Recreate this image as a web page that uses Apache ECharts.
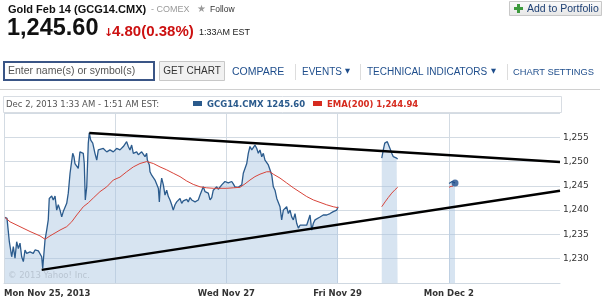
<!DOCTYPE html>
<html><head><meta charset="utf-8">
<script src="https://cdn.jsdelivr.net/npm/echarts@6/dist/echarts.min.js"></script>
<style>html,body{margin:0;padding:0;background:#fff;}#c{width:605px;height:302px;}</style>
</head><body><div id="c"></div>
<script>
// x = trading-session units (0 = Mon Nov 25 open, 1 per session)
const dayLabels = ['Mon Nov 25, 2013', '', 'Wed Nov 27', 'Fri Nov 29', 'Mon Dec 2', ''];
const yTicks = [1230, 1235, 1240, 1245, 1250, 1255];

const priceSeg1 = [
[0.009,1238.5],[0.027,1238.3],[0.048,1233.5],[0.069,1230.4],[0.084,1232.5],[0.099,1230.1],[0.114,1233.5],[0.129,1232.1],[0.144,1233.2],[0.159,1230.4],
[0.174,1229.4],[0.189,1231.8],[0.204,1231.1],[0.219,1231.4],[0.234,1231.4],[0.249,1231.8],[0.263,1231.1],[0.279,1231.8],[0.294,1231.4],[0.309,1231.6],
[0.324,1231.4],[0.339,1230.4],[0.348,1228.0],[0.360,1228.4],[0.369,1233.9],[0.384,1235.9],[0.398,1238.0],[0.407,1242.4],[0.429,1242.9],[0.443,1242.1],
[0.459,1242.9],[0.474,1240.0],[0.488,1241.1],[0.504,1240.0],[0.519,1238.6],[0.533,1239.7],[0.564,1241.4],[0.578,1243.5],[0.594,1247.6],[0.609,1247.9],
[0.618,1251.7],[0.629,1251.0],[0.638,1249.6],[0.654,1249.3],[0.668,1248.6],[0.683,1252.0],[0.699,1252.4],[0.713,1251.7],[0.722,1249.6],[0.731,1242.1],
[0.744,1244.8],[0.758,1253.8],[0.767,1255.9],[0.780,1254.4],[0.798,1253.8],[0.818,1251.7],[0.834,1250.3],[0.848,1252.4],[0.863,1252.0],[0.893,1252.7],
[0.924,1252.0],[0.953,1252.4],[0.983,1252.0],[1.013,1252.7],[1.043,1252.4],[1.073,1253.1],[1.088,1253.4],[1.103,1254.1],[1.118,1253.1],[1.133,1252.4],
[1.148,1253.4],[1.163,1251.7],[1.178,1251.4],[1.193,1252.0],[1.208,1251.4],[1.223,1251.7],[1.238,1252.0],[1.253,1251.7],[1.268,1251.0],[1.283,1251.7],
[1.289,1250.3],[1.307,1249.3],[1.313,1247.9],[1.328,1247.2],[1.343,1247.6],[1.358,1246.2],[1.373,1245.9],[1.388,1244.5],[1.397,1241.7],[1.403,1244.1],
[1.418,1246.6],[1.433,1245.2],[1.448,1243.1],[1.463,1244.1],[1.478,1242.8],[1.493,1242.1],[1.508,1241.1],[1.522,1240.0],[1.538,1241.1],[1.553,1241.7],
[1.567,1241.4],[1.583,1242.4],[1.598,1241.4],[1.612,1241.9],[1.628,1241.7],[1.643,1242.2],[1.657,1241.7],[1.673,1242.6],[1.688,1242.1],[1.702,1242.2],
[1.718,1241.7],[1.733,1242.1],[1.747,1242.1],[1.763,1243.1],[1.792,1244.8],[1.808,1243.8],[1.823,1244.1],[1.837,1243.5],[1.853,1242.1],[1.868,1242.6],
[1.882,1244.1],[1.897,1244.5],[1.913,1244.8],[1.927,1244.3],[1.942,1244.7],[1.958,1245.2],[1.972,1245.5],[1.987,1245.9],[2.003,1245.5],[2.017,1245.6],
[2.032,1245.9],[2.048,1245.9],[2.062,1245.4],[2.077,1244.8],[2.093,1244.5],[2.107,1244.7],[2.122,1244.5],[2.138,1245.2],[2.152,1247.6],[2.167,1247.9],
[2.183,1249.6],[2.197,1251.7],[2.212,1253.1],[2.228,1252.4],[2.242,1252.7],[2.257,1253.4],[2.273,1252.7],[2.287,1251.7],[2.302,1252.4],[2.318,1251.0],
[2.332,1251.7],[2.347,1250.3],[2.362,1250.7],[2.377,1249.3],[2.392,1248.3],[2.408,1247.2],[2.422,1244.8],[2.437,1244.1],[2.453,1242.4],[2.467,1242.8],
[2.482,1240.7],[2.497,1238.0],[2.512,1240.0],[2.527,1240.4],[2.542,1240.7],[2.557,1239.3],[2.572,1240.0],[2.587,1238.6],[2.602,1238.0],[2.617,1239.3],
[2.632,1237.3],[2.647,1236.3],[2.662,1236.9],[2.677,1237.3],[2.692,1236.9],[2.707,1237.3],[2.722,1236.9],[2.737,1237.3],[2.752,1239.0],[2.767,1235.9],
[2.782,1237.3],[2.797,1238.0],[2.812,1238.3],[2.842,1238.6],[2.871,1239.0],[2.902,1239.0],[2.932,1239.3],[2.961,1239.7],[2.992,1240.0],[3.004,1240.7]
];
const priceSeg2 = [
[3.397,1250.7],[3.411,1252.4],[3.424,1253.8],[3.433,1254.1],[3.447,1254.1],[3.462,1253.8],[3.471,1252.7],[3.487,1251.7],[3.501,1251.0],[3.516,1251.4],[3.531,1250.7],[3.540,1250.5]
];
const priceSeg3 = [[4.002,1245.5],[4.015,1245.8],[4.029,1245.9],[4.042,1245.6],[4.056,1245.6]];

const emaSeg1 = [
[0.009,1238.5],[0.054,1237.6],[0.144,1236.6],[0.234,1235.6],[0.324,1234.7],[0.369,1234.0],[0.414,1234.7],[0.459,1235.3],[0.504,1235.9],[0.564,1236.6],
[0.609,1237.6],[0.654,1239.0],[0.713,1240.7],[0.758,1241.5],[0.803,1242.5],[0.863,1243.8],[0.924,1244.8],[0.983,1246.2],[1.043,1246.8],[1.103,1247.9],
[1.163,1248.9],[1.223,1249.6],[1.283,1250.0],[1.343,1249.6],[1.403,1248.9],[1.463,1248.3],[1.522,1247.6],[1.583,1246.9],[1.643,1246.0],[1.702,1245.3],
[1.763,1244.8],[1.823,1244.6],[1.882,1244.5],[1.942,1244.5],[2.003,1244.5],[2.062,1244.6],[2.122,1244.7],[2.167,1245.4],[2.212,1246.2],[2.257,1246.9],
[2.302,1247.4],[2.362,1247.9],[2.392,1247.9],[2.422,1247.4],[2.482,1246.6],[2.542,1245.6],[2.602,1244.6],[2.662,1243.7],[2.722,1242.8],[2.782,1242.1],
[2.842,1241.6],[2.902,1241.1],[2.961,1240.7],[3.004,1240.5]
];
const emaSeg2 = [[3.397,1240.7],[3.427,1241.7],[3.456,1242.6],[3.487,1243.5],[3.516,1244.2],[3.540,1244.7]];
const emaSeg3 = [[4.002,1244.7],[4.020,1244.9],[4.038,1244.94]];

const upperTrend = [[0.767,1255.9],[5,1249.9]];
const lowerTrend = [[0.339,1227.7],[5,1244.0]];
const lastPoint = [[4.056,1245.6]];

function joinSegs(segs){ const out=[]; segs.forEach((s,i)=>{ if(i>0) out.push([ (segs[i-1][segs[i-1].length-1][0]+s[0][0])/2, '-']); s.forEach(p=>out.push(p)); }); return out; }
function fmt(v){ return String(v).replace(/\B(?=(\d{3})+(?!\d))/g, ','); }

const AR = '"Liberation Sans", Arial, sans-serif';
const DV = '"DejaVu Sans", Verdana, sans-serif';
const navBlue = '#1f4e8c';

const g = [];
function txt(x,y,t,font,fill,align){ g.push({type:'text', x:x, y:y, z:100, style:{text:t, font:font, fill:fill, textAlign:align||'left', textVerticalAlign:'middle', align:align||'left', verticalAlign:'middle'}}); }
function rect(x,y,w,h,fill,stroke,lw){ g.push({type:'rect', z:90, shape:{x:x,y:y,width:w,height:h}, style:{fill:fill, stroke:stroke||null, lineWidth:lw||1}}); }
function ln(x1,y1,x2,y2,c){ g.push({type:'line', z:90, shape:{x1:x1,y1:y1,x2:x2,y2:y2}, style:{stroke:c, lineWidth:1}}); }

// header
txt(8,10,'Gold Feb 14 (GCG14.CMX)','bold 11px '+AR,'#111');
txt(151,10,'- COMEX','9px '+AR,'#9a9a9a');
txt(197,9.5,'★','10px '+DV,'#9a9a9a');
txt(210,10,'Follow','8.5px '+AR,'#333');
txt(7,29,'1,245.60','bold 23.5px '+AR,'#111');
txt(104,33,'↓','bold 11px '+DV,'#cc1111');
txt(112,32,'4.80(0.38%)','bold 15px '+AR,'#cc1111');
txt(199,33,'1:33AM EST','9px '+AR,'#222');
// add to portfolio button
g.push({type:'rect', z:90, shape:{x:509.5,y:1.5,width:92,height:14}, style:{fill:{type:'linear',x:0,y:0,x2:0,y2:1,colorStops:[{offset:0,color:'#fbfbfb'},{offset:1,color:'#e6e6e6'}]}, stroke:'#c8c8c8', lineWidth:1}});
rect(517,4,3,9,'#3d9a3d'); rect(514,7,9,3,'#3d9a3d');
txt(527,9,'Add to Portfolio','10.5px '+AR,'#1d3f73');
// search row
rect(4,62,150,18,'#fff','#3a5586',2);
txt(8,71,'Enter name(s) or symbol(s)','10.5px '+AR,'#555');
rect(159.5,61.5,65,19,'#f1f1f1','#c8c8c8',1);
txt(192,71,'GET CHART','10px '+AR,'#333','center');
txt(232,72,'COMPARE','10.5px '+AR,navBlue);
ln(295.5,64,295.5,80,'#dddddd');
txt(302,72,'EVENTS','10px '+AR,navBlue);
txt(345,71.5,'▼','6.5px '+DV,navBlue);
ln(360.5,64,360.5,80,'#dddddd');
txt(367,72,'TECHNICAL INDICATORS','10px '+AR,navBlue);
txt(491,71.5,'▼','6.5px '+DV,navBlue);
ln(507.5,64,507.5,80,'#dddddd');
txt(513,72,'CHART SETTINGS','9.3px '+AR,navBlue);
ln(0,89.5,600,89.5,'#d0d0d0');
// legend box
rect(3.5,96.5,558,16,'#fff','#d8dde3',1);
txt(6,104.5,'Dec 2, 2013 1:33 AM - 1:51 AM EST:','8.5px '+DV,'#555');
rect(193,101,9,5,'#2a5a8c');
txt(207,104.5,'GCG14.CMX 1245.60','bold 8.5px '+DV,'#2a5a8c');
rect(313,101,9,5,'#d62b1f');
txt(327,104.5,'EMA(200) 1,244.94','bold 8.5px '+DV,'#d62b1f');
// watermark
txt(8,276,'© 2013 Yahoo! Inc.','8.5px '+DV,'#b9c5d2');

const chart = echarts.init(document.getElementById('c'), null, {renderer:'canvas'});
chart.setOption({
  animation:false,
  backgroundColor:'#fff',
  grid:{left:4, right:45, top:113, bottom:19, containLabel:false},
  xAxis:{type:'value', min:0, max:5, interval:1,
    axisLine:{show:true, lineStyle:{color:'#cfd8e1'}}, axisTick:{show:false},
    splitLine:{show:true, showMaxLine:false, lineStyle:{color:'#d3dbe3'}},
    axisLabel:{formatter:function(v){return dayLabels[Math.round(v)]||'';}, color:'#333', fontFamily:DV, fontWeight:'bold', fontSize:8.5, margin:6, alignMinLabel:'left', showMaxLabel:false}},
  yAxis:{type:'value', position:'right', min:1225, max:1260, interval:5,
    axisLine:{show:false}, axisTick:{show:false},
    splitLine:{show:true, lineStyle:{color:'#d3dbe3'}},
    axisLabel:{formatter:function(v){return yTicks.indexOf(v)>=0?fmt(v):'';}, color:'#333', fontFamily:DV, fontSize:9, margin:3}},
  series:[
    {type:'line', data:joinSegs([priceSeg1,priceSeg2,priceSeg3]), symbol:'none', connectNulls:false,
      lineStyle:{color:'#2b5b8d', width:1.3}, areaStyle:{color:'#a7c4e0', opacity:0.45, origin:'start'}, z:3},
    {type:'line', data:joinSegs([emaSeg1,emaSeg2,emaSeg3]), symbol:'none', connectNulls:false,
      lineStyle:{color:'#d8443a', width:1}, z:4},
    {type:'line', data:upperTrend, symbol:'none', lineStyle:{color:'#000', width:2.5}, z:5},
    {type:'line', data:lowerTrend, symbol:'none', lineStyle:{color:'#000', width:2.5}, z:5},
    {type:'scatter', data:lastPoint, symbolSize:7, itemStyle:{color:'#1f4e8c'}, z:6}
  ],
  graphic:g
});
</script></body></html>
